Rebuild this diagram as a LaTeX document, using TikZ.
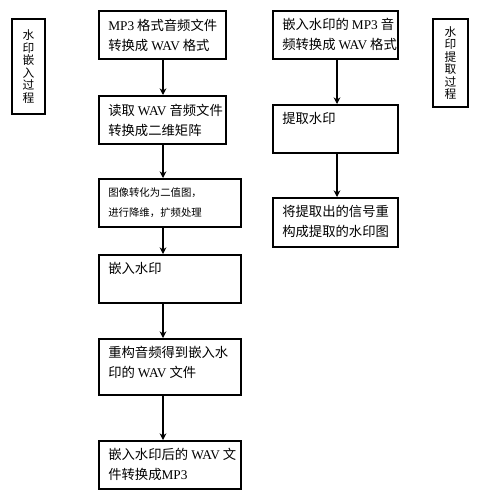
\documentclass[tikz,border=0pt]{standalone}
\usepackage{fontspec}
\setmainfont{Liberation Serif}
\newfontfamily\cjk{Noto Sans CJK SC}
\newfontfamily\lat{Liberation Serif}
\usetikzlibrary{arrows.meta}
\newcommand\W[1]{{\lat #1}}
\begin{document}
\begin{tikzpicture}[x=0.75pt,y=-0.75pt,
  box/.style={draw, line width=1.5pt, inner sep=0pt, anchor=north west, minimum width=#1},
  box/.default=106.5pt,
  txt/.style={anchor=north west, inner sep=0pt, align=left,
    font=\cjk\fontsize{10pt}{15pt}\selectfont},
  smalltxt/.style={anchor=north west, inner sep=0pt, align=left,
    font=\cjk\fontsize{7.8pt}{15pt}\selectfont},
  vlabel/.style={draw, line width=1.5pt, inner sep=0pt, align=center,
    font=\cjk\fontsize{8.8pt}{9.4pt}\selectfont},
  arr/.style={line width=1.2pt, -{Stealth[length=5pt,width=5pt]}}
]
\useasboundingbox (0,0) rectangle (484,500);
\fill[white] (0,0) rectangle (484,500);

% side labels
\node[vlabel, minimum width=24.75pt, minimum height=71.25pt] (LL) at (28.5,66.5) {水\\印\\嵌\\入\\过\\程};
\node[vlabel, minimum width=26.25pt, minimum height=66pt] (RL) at (450.5,63) {水\\印\\提\\取\\过\\程};

% left column
\node[box=95.25pt, minimum height=36pt] (L1) at (98,10) {};
\node[box=95.25pt, minimum height=36pt] (L2) at (98,95) {};
\node[box, minimum height=36pt] (L3) at (98,178) {};
\node[box, minimum height=36pt] (L4) at (98,254) {};
\node[box, minimum height=42pt] (L5) at (98,338) {};
\node[box, minimum height=36pt] (L6) at (98,440) {};

\node[txt] (t1) at ([shift={(10,9)}]L1.north west) {\W{MP3} 格式音频文件\\转换成 \W{WAV} 格式};
\node[txt] (t2) at ([shift={(10,9)}]L2.north west) {读取 \W{WAV} 音频文件\\转换成二维矩阵};
\node[smalltxt] (t3) at ([shift={(10,9)}]L3.north west) {图像转化为二值图，\\进行降维，扩频处理};
\node[txt] (t4) at ([shift={(10,8)}]L4.north west) {嵌入水印};
\node[txt] (t5) at ([shift={(10,8)}]L5.north west) {重构音频得到嵌入水\\印的 \W{WAV} 文件};
\node[txt] (t6) at ([shift={(10,8)}]L6.north west) {嵌入水印后的 \W{WAV} 文\\件转换成\W{MP3}};

% right column
\node[box=93.75pt, minimum height=36pt] (R1) at (272,10) {};
\node[box=93.75pt, minimum height=36pt] (R2) at (272,104) {};
\node[box=93.75pt, minimum height=36.75pt] (R3) at (272,197) {};

\node[txt] (r1) at ([shift={(10,8)}]R1.north west) {嵌入水印的 \W{MP3} 音\\频转换成 \W{WAV} 格式};
\node[txt] (r2) at ([shift={(10,8)}]R2.north west) {提取水印};
\node[txt] (r3) at ([shift={(10,8)}]R3.north west) {将提取出的信号重\\构成提取的水印图};

% arrows
\coordinate (axL) at (163,0);
\coordinate (axR) at (337,0);
\draw[arr] (L1.south -| axL) -- (L2.north -| axL);
\draw[arr] (L2.south -| axL) -- (L3.north -| axL);
\draw[arr] (L3.south -| axL) -- (L4.north -| axL);
\draw[arr] (L4.south -| axL) -- (L5.north -| axL);
\draw[arr] (L5.south -| axL) -- (L6.north -| axL);
\draw[arr] (R1.south -| axR) -- (R2.north -| axR);
\draw[arr] (R2.south -| axR) -- (R3.north -| axR);
\end{tikzpicture}
\end{document}
